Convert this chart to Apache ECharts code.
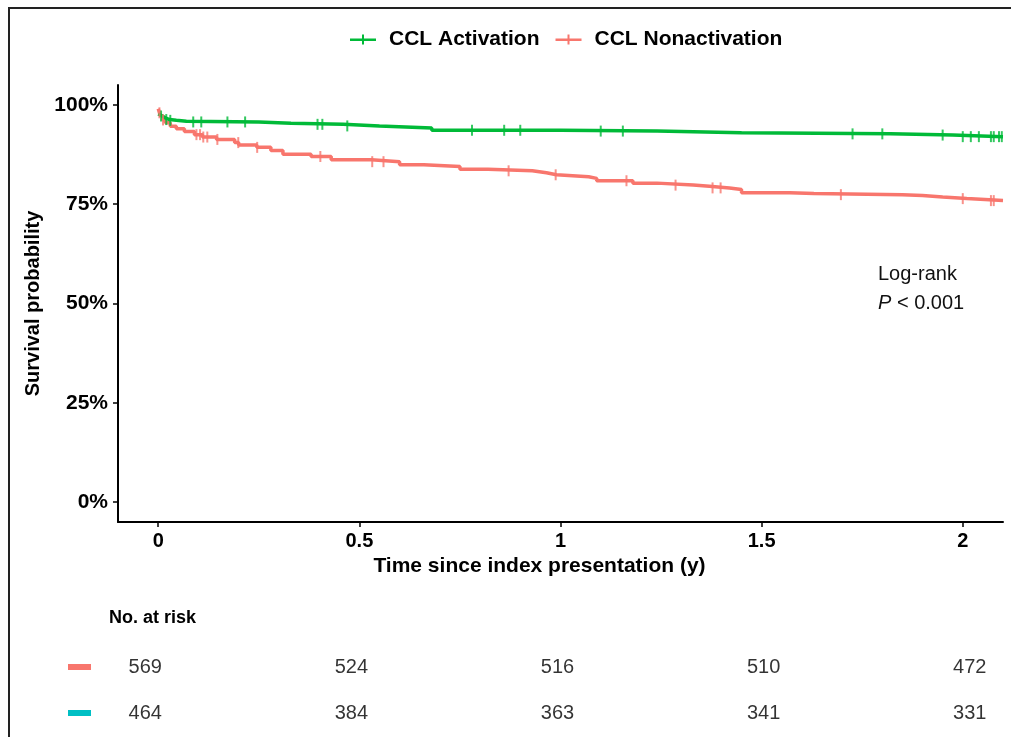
<!DOCTYPE html>
<html>
<head>
<meta charset="utf-8">
<script src="https://cdn.jsdelivr.net/npm/echarts@6/dist/echarts.min.js"></script>
<style>
  html, body { margin: 0; padding: 0; background: #fff; }
  #main { width: 1011px; height: 737px; }
</style>
</head>
<body>
<div id="main"></div>
<script>
// KM curve steps (time in years, survival after that time)
var actTimes = [0, 0.004, 0.01, 0.018, 0.028, 0.045, 0.07, 0.25, 0.33, 0.46, 0.55, 0.68, 1.0, 1.24, 1.45, 1.82, 1.975, 2.1];
var actSurv  = [0.977, 0.972, 0.967, 0.963, 0.961, 0.959, 0.957, 0.954, 0.951, 0.947, 0.942, 0.936, 0.934, 0.930, 0.927, 0.924, 0.920, 0.920];

var nonTimes = [0, 0.003, 0.006, 0.012, 0.018, 0.03, 0.045, 0.065, 0.09, 0.11, 0.145, 0.19, 0.2, 0.245, 0.28, 0.31, 0.38, 0.43,
                0.53, 0.6, 0.66, 0.75, 0.82, 0.93, 0.965, 0.99, 1.07, 1.09, 1.18, 1.24, 1.33, 1.37, 1.42, 1.45, 1.57, 1.63,
                1.85, 1.9, 1.95, 2.01, 2.1];
var nonSurv  = [0.99, 0.98, 0.972, 0.962, 0.955, 0.946, 0.94, 0.933, 0.925, 0.919, 0.913, 0.905, 0.899, 0.893, 0.885, 0.876, 0.870, 0.862,
                0.857, 0.849, 0.845, 0.838, 0.834, 0.829, 0.824, 0.819, 0.815, 0.809, 0.803, 0.798, 0.795, 0.791, 0.787, 0.779, 0.777, 0.774,
                0.772, 0.768, 0.764, 0.759, 0.759];

// censoring times
var actCensor = [0.007, 0.02, 0.03, 0.087, 0.107, 0.172, 0.216, 0.396, 0.408, 0.47, 0.78, 0.86, 0.90, 1.10, 1.155,
                 1.726, 1.80, 1.95, 2.0, 2.02, 2.04, 2.07, 2.077, 2.09, 2.097];
var nonCensor = [0.003, 0.012, 0.095, 0.104, 0.112, 0.122, 0.147, 0.199, 0.246, 0.403, 0.532, 0.56, 0.871, 0.988,
                 1.164, 1.286, 1.378, 1.398, 1.697, 2.0, 2.07, 2.077];

// number at risk
var riskTimes = [0, 0.5, 1, 1.5, 2];
var riskNon = [569, 524, 516, 510, 472];
var riskAct = [464, 384, 363, 341, 331];

var xTicks = [0, 0.5, 1, 1.5, 2];
var yTicks = [0, 0.25, 0.5, 0.75, 1];

var green = '#00BA38', salmon = '#F8766D', teal = '#00BFC4';
var font = 'Liberation Sans, Arial, sans-serif';

function curve(times, surv) {
    var out = [];
    for (var i = 0; i < times.length; i++) out.push([times[i], surv[i]]);
    return out;
}
function survAt(times, surv, t) {
    var v = surv[0];
    for (var i = 0; i < times.length; i++) {
        if (times[i] <= t) v = surv[i];
    }
    return v;
}
function censorPts(ct, times, surv) {
    return ct.map(function (t) { return [t, survAt(times, surv, t)]; });
}
function riskPts(vals, row) {
    return vals.map(function (v, i) { return [riskTimes[i], row, v]; });
}

var chart = echarts.init(document.getElementById('main'));

var option = {
    backgroundColor: '#fff',
    animation: false,
    legend: {
        data: ['CCL Activation', 'CCL Nonactivation'],
        left: 345, top: 24,
        itemWidth: 26, itemHeight: 10, itemGap: 16,
        icon: 'path://M0,4 L26,4 L26,6.5 L0,6.5 Z M12,0 L14,0 L14,10 L12,10 Z',
        textStyle: { fontFamily: font, fontSize: 21, fontWeight: 'bold', color: '#000', padding: [0, 0, 0, 8] }
    },
    grid: [
        { left: 118, right: 8, top: 85, bottom: 215 },
        { left: 104, right: 0, top: 644, height: 92 }
    ],
    xAxis: [{
        gridIndex: 0, type: 'value', min: -0.1, max: 2.1,
        name: 'Time since index presentation (y)', nameLocation: 'middle', nameGap: 32,
        nameTextStyle: { fontFamily: font, fontSize: 21, fontWeight: 'bold', color: '#000', padding: [0, 42, 0, 0] },
        axisLine: { onZero: false, lineStyle: { color: '#000', width: 2 } },
        axisTick: { show: true, length: 5, lineStyle: { color: '#000', width: 1.5 }, customValues: xTicks },
        axisLabel: { fontFamily: font, fontSize: 20, fontWeight: 'bold', color: '#000', margin: 9, customValues: xTicks,
                     formatter: function (v) { return String(v); } },
        splitLine: { show: false }
    }, {
        gridIndex: 1, type: 'value', min: -0.1, max: 2.1, show: false
    }],
    yAxis: [{
        gridIndex: 0, type: 'value', min: -0.05, max: 1.05,
        name: 'Survival probability', nameLocation: 'middle', nameGap: 60, nameRotate: 90,
        nameTextStyle: { fontFamily: font, fontSize: 20, fontWeight: 'bold', color: '#000' },
        axisLine: { show: true, onZero: false, lineStyle: { color: '#000', width: 2 } },
        axisTick: { show: true, length: 5, lineStyle: { color: '#000', width: 1.5 }, customValues: yTicks },
        axisLabel: { fontFamily: font, fontSize: 21, fontWeight: 'bold', color: '#000', margin: 10, customValues: yTicks,
                     formatter: function (v) { return Math.round(v * 100) + '%'; } },
        splitLine: { show: false }
    }, {
        gridIndex: 1, type: 'category', data: ['act', 'non'],
        axisLine: { show: false }, axisTick: { show: false },
        axisLabel: {
            margin: 13,
            formatter: function (v) { return '{' + v + '|}'; },
            rich: {
                act: { width: 23, height: 6, backgroundColor: teal },
                non: { width: 23, height: 6, backgroundColor: salmon }
            }
        }
    }],
    series: [{
        name: 'CCL Activation', type: 'line', step: 'end', xAxisIndex: 0, yAxisIndex: 0,
        data: curve(actTimes, actSurv), showSymbol: false, symbol: 'none',
        lineStyle: { color: green, width: 3.5 }, itemStyle: { color: green }, z: 3
    }, {
        name: 'CCL Nonactivation', type: 'line', step: 'end', xAxisIndex: 0, yAxisIndex: 0,
        data: curve(nonTimes, nonSurv), showSymbol: false, symbol: 'none',
        lineStyle: { color: salmon, width: 3.5 }, itemStyle: { color: salmon }, z: 2
    }, {
        name: 'actCensor', type: 'scatter', xAxisIndex: 0, yAxisIndex: 0,
        data: censorPts(actCensor, actTimes, actSurv), symbol: 'rect', symbolSize: [2, 11],
        itemStyle: { color: green }, z: 4
    }, {
        name: 'nonCensor', type: 'scatter', xAxisIndex: 0, yAxisIndex: 0,
        data: censorPts(nonCensor, nonTimes, nonSurv), symbol: 'rect', symbolSize: [2, 11],
        itemStyle: { color: salmon }, z: 4
    }, {
        name: 'riskNon', type: 'scatter', xAxisIndex: 1, yAxisIndex: 1,
        data: riskPts(riskNon, 'non'), symbolSize: 1, itemStyle: { color: 'transparent' },
        label: { show: true, position: 'inside', formatter: function (p) { return p.value[2]; },
                 fontFamily: font, fontSize: 20, color: '#000' }
    }, {
        name: 'riskAct', type: 'scatter', xAxisIndex: 1, yAxisIndex: 1,
        data: riskPts(riskAct, 'act'), symbolSize: 1, itemStyle: { color: 'transparent' },
        label: { show: true, position: 'inside', formatter: function (p) { return p.value[2]; },
                 fontFamily: font, fontSize: 20, color: '#000' }
    }],
    graphic: [{
        type: 'polyline', shape: { points: [[9, 737], [9, 8], [1011, 8]] },
        style: { stroke: '#222', lineWidth: 2, fill: null }
    }, {
        type: 'text', left: 878, top: 264,
        style: { text: 'Log-rank', font: '20px ' + font, fill: '#111' }
    }, {
        type: 'text', left: 878, top: 293,
        style: {
            text: '{i|P} < 0.001', font: '20px ' + font, fill: '#111',
            rich: { i: { fontStyle: 'italic', fontSize: 20, fontFamily: font } }
        }
    }, {
        type: 'text', left: 109, top: 609,
        style: { text: 'No. at risk', font: 'bold 18px ' + font, fill: '#000' }
    }]
};

chart.setOption(option);
</script>
</body>
</html>
